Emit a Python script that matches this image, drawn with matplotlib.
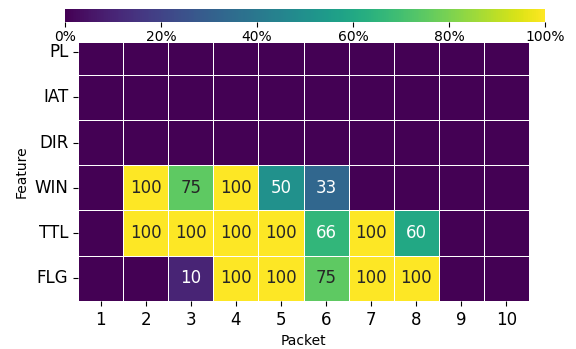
import numpy as np
import matplotlib
matplotlib.use("Agg")
import matplotlib.pyplot as plt
import seaborn as sns

features = ["PL", "IAT", "DIR", "WIN", "TTL", "FLG"]
packets = [1, 2, 3, 4, 5, 6, 7, 8, 9, 10]

pl  = [0, 0, 0, 0, 0, 0, 0, 0, 0, 0]
iat = [0, 0, 0, 0, 0, 0, 0, 0, 0, 0]
dir_ = [0, 0, 0, 0, 0, 0, 0, 0, 0, 0]
win = [0, 100, 75, 100, 50, 33, 0, 0, 0, 0]
ttl = [0, 100, 100, 100, 100, 66, 100, 60, 0, 0]
flg = [0, 0, 10, 100, 100, 75, 100, 100, 0, 0]

data = np.array([pl, iat, dir_, win, ttl, flg], dtype=float)
labels = np.where(data > 0, data.astype(int).astype(str), "")

W, H = 576, 349
fig = plt.figure(figsize=(W / 100, H / 100), dpi=100)
ax = fig.add_axes([78 / W, 1 - 301 / H, (529 - 78) / W, (301 - 43) / H])
cax = fig.add_axes([65 / W, 1 - 22 / H, (545 - 65) / W, 13 / H])

sns.heatmap(data, ax=ax, cbar_ax=cax, cmap="viridis", vmin=0, vmax=100,
            annot=labels, fmt="", annot_kws={"fontsize": 12},
            linewidths=0.7, linecolor="white",
            xticklabels=packets, yticklabels=features,
            cbar_kws={"orientation": "horizontal", "ticks": [0, 20, 40, 60, 80, 100],
                      "format": "%.0f%%"})

# top row is partly hidden behind the colorbar labels in the original
ax.set_ylim(6, 0.3)

ax.set_xlabel("Packet", fontsize=10)
ax.set_ylabel("Feature", fontsize=10)
ax.tick_params(axis="x", labelsize=12, rotation=0)
ax.tick_params(axis="y", labelsize=12, rotation=0)
cax.tick_params(labelsize=10, pad=2)

fig.savefig("out.png", dpi=100)
